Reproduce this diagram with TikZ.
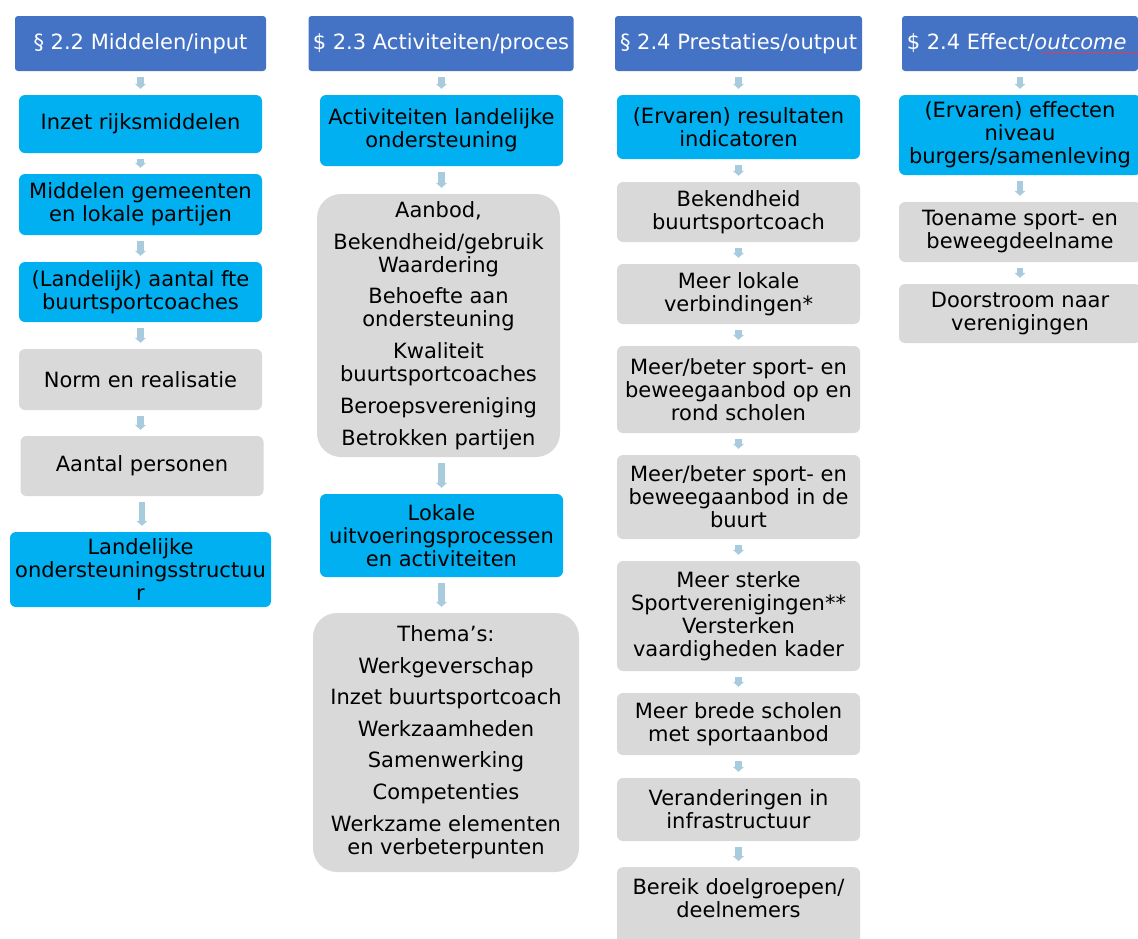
\documentclass[tikz,border=0pt]{standalone}
\usepackage{fontspec}
\setmainfont{DejaVu Sans}
\usetikzlibrary{arrows.meta}
\definecolor{headblue}{RGB}{68,114,196}
\definecolor{boxcyan}{RGB}{0,176,240}
\definecolor{boxgrey}{RGB}{217,217,217}
\definecolor{flowblue}{RGB}{168,204,222}
\definecolor{spellred}{RGB}{225,60,80}

\begin{document}
\begin{tikzpicture}[x=1pt,y=-1pt]
        \def\colA{140.5}
        \def\colB{441.5}
        \def\colC{738.5}
        \def\colD{1020}
        \tikzstyle{txt}=[inner sep=0pt, align=center, text=black, font=\fontsize{21}{23}\selectfont]
        \tikzstyle{head}=[txt, rounded corners=3pt, fill=headblue, text=white, minimum height=55pt]
        \tikzstyle{cbox}=[txt, rounded corners=6pt, fill=boxcyan, minimum width=243pt]
        \tikzstyle{gbox}=[txt, rounded corners=6pt, fill=boxgrey, minimum width=243pt]
        \tikzstyle{bigbox}=[gbox, rounded corners=24pt]
        \tikzstyle{flow}=[draw=flowblue, line width=6.5pt, -{Triangle[width=11pt,length=5pt]}, shorten <=6pt, shorten >=6pt]

        \useasboundingbox (0,0) rectangle (1138,938);

        % Headers
        \node[head, minimum width=251pt] (h1) at (\colA, 43.5) {§ 2.2 Middelen/input};
        \node[head, minimum width=265pt] (h2) at (441, 43.5) {\$ 2.3 Activiteiten/proces};
        \node[head, minimum width=247pt] (h3) at (\colC, 43.5) {§ 2.4 Prestaties/output};
        \node[head, minimum width=236pt] (h4) at (\colD, 43.5) {\$ 2.4 Effect/\textit{outcome}\ };
        % spell-check line under the italic word
        \draw[spellred, line width=1.3pt] ([xshift=22pt, yshift=-9pt]h4.center) -- ([yshift=-9pt]h4.east);

        % Nodes: middelen
        \node[cbox, minimum height=58pt] (a1) at (\colA, 124) {Inzet rijksmiddelen};
        \node[cbox, minimum height=61pt] (a2) at (\colA, 204.5) {Middelen gemeenten\\en lokale partijen};
        \node[cbox, minimum height=60pt] (a3) at (\colA, 292) {(Landelijk) aantal fte\\buurtsportcoaches};
        \node[gbox, minimum height=61pt] (a4) at (\colA, 379.5) {Norm en realisatie};
        \node[gbox, minimum height=60pt] (a5) at (142, 466) {Aantal personen};
        \node[cbox, minimum width=261pt, minimum height=75pt] (a6) at (\colA, 569.5) {Landelijke\\ondersteuningsstructuu\\r};

        % Nodes: activiteiten
        \node[cbox, minimum height=71pt] (b1) at (\colB, 130.5) {Activiteiten landelijke\\ondersteuning};
        \node[bigbox, minimum height=263pt] (b2) at (438.5, 325.5) {Aanbod,\\[9pt]Bekendheid/gebruik\\Waardering\\[8pt]Behoefte aan\\ondersteuning\\[9pt]Kwaliteit\\buurtsportcoaches\\[9pt]Beroepsvereniging\\[9pt]Betrokken partijen};
        \node[cbox, minimum height=83pt] (b3) at (\colB, 535.5) {Lokale\\uitvoeringsprocessen\\en activiteiten};
        \node[bigbox, minimum width=266pt, minimum height=259pt] (b4) at (446, 742.5) {Thema’s:\\[9pt]Werkgeverschap\\[8pt]Inzet buurtsportcoach\\[9pt]Werkzaamheden\\[8pt]Samenwerking\\[9pt]Competenties\\[9pt]Werkzame elementen\\en verbeterpunten};

        % Nodes: prestaties
        \node[cbox, minimum height=64pt] (c1) at (\colC, 127) {(Ervaren) resultaten\\indicatoren};
        \node[gbox, minimum height=60pt] (c2) at (\colC, 212) {Bekendheid\\buurtsportcoach};
        \node[gbox, minimum height=60pt] (c3) at (\colC, 294) {Meer lokale\\verbindingen*};
        \node[gbox, minimum height=87pt] (c4) at (\colC, 389.5) {Meer/beter sport- en\\beweegaanbod op en\\rond scholen};
        \node[gbox, minimum height=84pt] (c5) at (\colC, 497) {Meer/beter sport- en\\beweegaanbod in de\\buurt};
        \node[gbox, minimum height=110pt] (c6) at (\colC, 616) {Meer sterke\\Sportverenigingen**\\Versterken\\vaardigheden kader};
        \node[gbox, minimum height=62pt] (c7) at (\colC, 724) {Meer brede scholen\\met sportaanbod};
        \node[gbox, minimum height=63pt] (c8) at (\colC, 809.5) {Veranderingen in\\infrastructuur};
        \node[gbox, anchor=north, inner ysep=11pt, text depth=60pt] (c9) at (\colC, 867) {Bereik doelgroepen/\\deelnemers};

        % Nodes: effect
        \node[cbox, minimum width=242pt, minimum height=80pt] (d1) at (\colD, 135) {(Ervaren) effecten\\niveau\\burgers/samenleving};
        \node[gbox, minimum width=242pt, minimum height=60pt] (d2) at (\colD, 232) {Toename sport- en\\beweegdeelname};
        \node[gbox, minimum width=242pt, minimum height=59pt] (d3) at (\colD, 313.5) {Doorstroom naar\\verenigingen};

        % Edges
        \draw[flow] (h1) -- (a1);
        \draw[flow] (a1) -- (a2);
        \draw[flow] (a2) -- (a3);
        \draw[flow] (a3) -- (a4);
        \draw[flow] (a4.south) -- (a4.south |- a5.north);
        \draw[flow] (a5.south) -- (a5.south |- a6.north);

        \draw[flow] (b1.north |- h2.south) -- (b1.north);
        \draw[flow] (b1.south) -- (b1.south |- b2.north);
        \draw[flow] (b3.north |- b2.south) -- (b3.north);
        \draw[flow] (b3.south) -- (b3.south |- b4.north);

        \draw[flow] (h3) -- (c1);
        \draw[flow] (c1) -- (c2);
        \draw[flow] (c2) -- (c3);
        \draw[flow] (c3) -- (c4);
        \draw[flow] (c4) -- (c5);
        \draw[flow] (c5) -- (c6);
        \draw[flow] (c6) -- (c7);
        \draw[flow] (c7) -- (c8);
        \draw[flow] (c8.south) -- (c9.north);

        \draw[flow] (h4) -- (d1);
        \draw[flow] (d1) -- (d2);
        \draw[flow] (d2) -- (d3);

\end{tikzpicture}
\end{document}
